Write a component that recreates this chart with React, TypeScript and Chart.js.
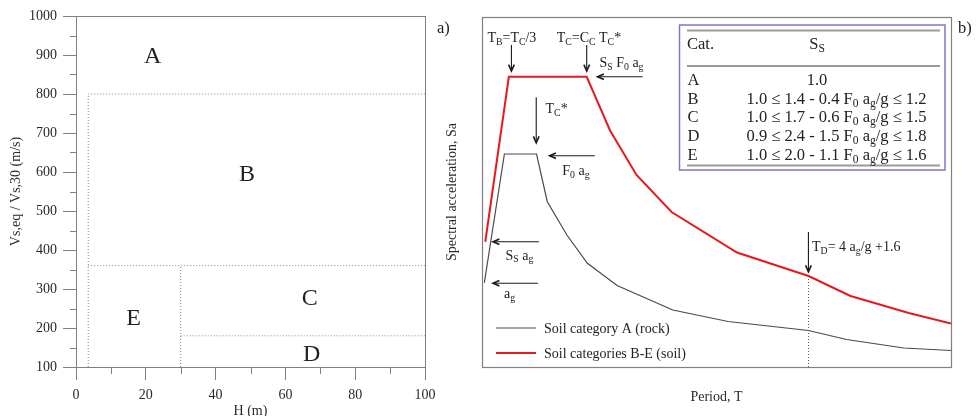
import React, { useEffect, useRef } from 'react';
import { Chart, registerables } from 'chart.js';

Chart.register(...registerables);

const FONT = '"Liberation Serif", "Times New Roman", serif';
Chart.defaults.font.family = FONT;

// ---------- Panel a) : site classification ----------
const hMin = 0;
const hMax = 100;
const hStep = 20;
const hMinorTicks = [10, 30, 50, 70, 90];
const vMin = 100;
const vMax = 1000;
const vStep = 100;
const vMinorTicks = [150, 250, 350, 450, 550, 650, 750, 850, 950];

// category boundaries (H in m, Vs in m/s)
const boundAB_H = [3.5, 3.5, 100];
const boundAB_V = [100, 800, 800];
const boundBE_H = [3.5, 100];
const boundBE_V = [360, 360];
const boundEC_H = [30, 30];
const boundEC_V = [100, 360];
const boundCD_H = [30, 100];
const boundCD_V = [180, 180];

const regionNames = ['A', 'B', 'C', 'D', 'E'];
const regionH = [22, 49, 67, 67.5, 16.5];
const regionV = [901, 598, 280, 135, 228];

// ---------- Panel b) : elastic response spectra ----------
const periodRock = [0.02, 0.191, 0.465, 0.557, 0.724, 0.899, 1.152, 1.627, 2.099, 2.785, 3.109, 3.597, 4.0];
const saRock = [0.337, 0.852, 0.852, 0.661, 0.528, 0.415, 0.326, 0.228, 0.182, 0.146, 0.11, 0.076, 0.066];
const periodSoil = [0.028, 0.229, 0.893, 1.092, 1.318, 1.617, 2.175, 2.785, 3.143, 3.64, 4.0];
const saSoil = [0.501, 1.161, 1.161, 0.946, 0.768, 0.62, 0.458, 0.364, 0.284, 0.216, 0.174];
const periodTD = 2.785;
const seriesLabels = ['Soil category A (rock)', 'Soil categories B-E (soil)'];

const annTexts = [
  'T_{B}=T_{C}/3',
  'T_{C}=C_{C} T_{C}*',
  'S_{S} F_{0} a_{g}',
  'T_{C}*',
  'F_{0} a_{g}',
  'S_{S} a_{g}',
  'a_{g}',
  'T_{D}= 4 a_{g}/g +1.6',
];
const annT = [0.046, 0.637, 1.002, 0.542, 0.685, 0.2, 0.188, 2.815];
const annSa = [1.3, 1.3, 1.2, 1.016, 0.768, 0.43, 0.276, 0.464];

const arrowFromT = [0.251, 0.893, 1.37, 0.4625, 0.962, 0.486, 0.477, 2.784];
const arrowFromSa = [1.288, 1.288, 1.161, 1.079, 0.845, 0.501, 0.335, 0.54];
const arrowToT = [0.251, 0.893, 0.985, 0.4625, 0.576, 0.094, 0.094, 2.784];
const arrowToSa = [1.184, 1.184, 1.161, 0.897, 0.845, 0.501, 0.335, 0.381];

const tableHeader = ['Cat.', 'S_{S}'];
const tableCats = ['A', 'B', 'C', 'D', 'E'];
const tableSs = [
  '1.0',
  '1.0 ≤ 1.4 - 0.4 F_{0} a_{g}/g ≤ 1.2',
  '1.0 ≤ 1.7 - 0.6 F_{0} a_{g}/g ≤ 1.5',
  '0.9 ≤ 2.4 - 1.5 F_{0} a_{g}/g ≤ 1.8',
  '1.0 ≤ 2.0 - 1.1 F_{0} a_{g}/g ≤ 1.6',
];

// ---------- helpers ----------
const toPts = (xs: number[], ys: number[]) => xs.map((x, i) => ({ x, y: ys[i] }));

function parseRich(s: string) {
  const segs: { t: string; sub: boolean }[] = [];
  const re = /_\{([^}]*)\}/g;
  let last = 0;
  let m: RegExpExecArray | null;
  while ((m = re.exec(s))) {
    if (m.index > last) segs.push({ t: s.slice(last, m.index), sub: false });
    segs.push({ t: m[1], sub: true });
    last = re.lastIndex;
  }
  if (last < s.length) segs.push({ t: s.slice(last), sub: false });
  return segs;
}

function drawRich(ctx: CanvasRenderingContext2D, s: string, x: number, y: number, size: number, align = 'left') {
  const segs = parseRich(s);
  const sub = size * 0.7;
  let w = 0;
  segs.forEach((g) => {
    ctx.font = `${g.sub ? sub : size}px ${FONT}`;
    w += ctx.measureText(g.t).width;
  });
  let cx = align === 'center' ? x - w / 2 : x;
  ctx.textBaseline = 'alphabetic';
  ctx.textAlign = 'left';
  segs.forEach((g) => {
    ctx.font = `${g.sub ? sub : size}px ${FONT}`;
    ctx.fillText(g.t, cx, g.sub ? y + size * 0.2 : y);
    cx += ctx.measureText(g.t).width;
  });
}

const frameColor = '#808080';
const textColor = '#222';

const leftPlugin = {
  id: 'leftDecor',
  afterDraw(chart: any) {
    const { ctx, chartArea: ca, scales } = chart;
    const xs = scales.x;
    const ys = scales.y;
    ctx.save();
    ctx.strokeStyle = frameColor;
    ctx.lineWidth = 1;
    ctx.strokeRect(Math.round(ca.left) + 0.5, Math.round(ca.top) + 0.5, Math.round(ca.right - ca.left), Math.round(ca.bottom - ca.top));
    // minor ticks
    ctx.beginPath();
    hMinorTicks.forEach((h) => {
      const px = Math.round(xs.getPixelForValue(h)) + 0.5;
      ctx.moveTo(px, ca.bottom);
      ctx.lineTo(px, ca.bottom + 7);
    });
    vMinorTicks.forEach((v) => {
      const py = Math.round(ys.getPixelForValue(v)) + 0.5;
      ctx.moveTo(ca.left, py);
      ctx.lineTo(ca.left - 6, py);
    });
    ctx.stroke();
    // region labels
    ctx.fillStyle = textColor;
    ctx.font = `24px ${FONT}`;
    ctx.textAlign = 'center';
    ctx.textBaseline = 'alphabetic';
    regionNames.forEach((n, i) => {
      ctx.fillText(n, xs.getPixelForValue(regionH[i]), ys.getPixelForValue(regionV[i]) + 8);
    });
    ctx.font = `16.5px ${FONT}`;
    ctx.textAlign = 'left';
    ctx.fillText('a)', 437, 33);
    ctx.restore();
  },
};

const rightPlugin = {
  id: 'rightDecor',
  afterDraw(chart: any) {
    const { ctx, chartArea: ca, scales } = chart;
    const xs = scales.x;
    const ys = scales.y;
    ctx.save();
    ctx.strokeStyle = frameColor;
    ctx.lineWidth = 1.2;
    ctx.strokeRect(Math.round(ca.left) + 0.5, Math.round(ca.top) + 0.5, Math.round(ca.right - ca.left), Math.round(ca.bottom - ca.top));

    // arrows
    ctx.strokeStyle = '#1a1a1a';
    ctx.lineWidth = 1.1;
    arrowFromT.forEach((t, i) => {
      const x1 = xs.getPixelForValue(t);
      const y1 = ys.getPixelForValue(arrowFromSa[i]);
      const x2 = xs.getPixelForValue(arrowToT[i]);
      const y2 = ys.getPixelForValue(arrowToSa[i]);
      const a = Math.atan2(y2 - y1, x2 - x1);
      ctx.beginPath();
      ctx.moveTo(x1, y1);
      ctx.lineTo(x2, y2);
      ctx.stroke();
      ctx.lineWidth = 1.6;
      ctx.beginPath();
      const L = 7;
      const s = 0.42;
      ctx.moveTo(x2 - L * Math.cos(a - s), y2 - L * Math.sin(a - s));
      ctx.lineTo(x2, y2);
      ctx.lineTo(x2 - L * Math.cos(a + s), y2 - L * Math.sin(a + s));
      ctx.stroke();
      ctx.lineWidth = 1.1;
    });

    // annotations
    ctx.fillStyle = textColor;
    annTexts.forEach((s, i) => {
      drawRich(ctx, s, xs.getPixelForValue(annT[i]), ys.getPixelForValue(annSa[i]), 14);
    });

    // table
    ctx.strokeStyle = '#7c78c6';
    ctx.lineWidth = 1.5;
    ctx.strokeRect(239.5, 25, 265.5, 145);
    ctx.strokeStyle = '#9a9a9a';
    ctx.lineWidth = 2;
    [30.5, 66, 165.5].forEach((y) => {
      ctx.beginPath();
      ctx.moveTo(247, y);
      ctx.lineTo(500, y);
      ctx.stroke();
    });
    ctx.fillStyle = textColor;
    drawRich(ctx, tableHeader[0], 247, 49, 16.5);
    drawRich(ctx, tableHeader[1], 377, 49, 16.5, 'center');
    const rowY = [85, 103.5, 122, 141, 160];
    tableCats.forEach((c, i) => {
      drawRich(ctx, c, 247.5, rowY[i], 16.5);
      if (i === 0) drawRich(ctx, tableSs[i], 377, rowY[i], 16.5, 'center');
      else drawRich(ctx, tableSs[i], 306.5, rowY[i], 16.5);
    });

    // legend
    const ds = chart.data.datasets;
    const legY = [328, 353];
    [0, 1].forEach((k) => {
      ctx.strokeStyle = ds[k].borderColor;
      ctx.lineWidth = ds[k].borderWidth;
      ctx.beginPath();
      ctx.moveTo(56, legY[k]);
      ctx.lineTo(96, legY[k]);
      ctx.stroke();
      ctx.fillStyle = textColor;
      ctx.font = `14px ${FONT}`;
      ctx.textBaseline = 'middle';
      ctx.textAlign = 'left';
      ctx.fillText(ds[k].label, 104, legY[k] + 1);
    });

    ctx.font = `16.5px ${FONT}`;
    ctx.textBaseline = 'alphabetic';
    ctx.fillText('b)', 518, 33);
    ctx.restore();
  },
};

const dotted = { showLine: true, borderColor: '#8a8a8a', borderWidth: 1, borderDash: [1, 2], pointRadius: 0, fill: false };

function leftConfig(): any {
  return {
    type: 'scatter',
    data: {
      datasets: [
        { ...dotted, data: toPts(boundAB_H, boundAB_V) },
        { ...dotted, data: toPts(boundBE_H, boundBE_V) },
        { ...dotted, data: toPts(boundEC_H, boundEC_V) },
        { ...dotted, data: toPts(boundCD_H, boundCD_V) },
      ],
    },
    options: {
      responsive: false,
      animation: false,
      events: [],
      layout: { padding: { top: 16, right: 45, bottom: 0, left: 0 } },
      plugins: { legend: { display: false }, tooltip: { enabled: false } },
      scales: {
        x: {
          type: 'linear',
          min: hMin,
          max: hMax,
          ticks: { stepSize: hStep, padding: 7, color: '#2a2a2a', font: { size: 14 }, maxRotation: 0, autoSkip: false, callback: (v: any) => String(v) },
          grid: { drawOnChartArea: false, tickLength: 13, color: frameColor },
          border: { display: false },
          title: { display: true, text: 'H (m)', color: '#2a2a2a', font: { size: 14 }, padding: { top: 0, bottom: -3.5 } },
          afterFit: (s: any) => { s.height = 49; },
        },
        y: {
          type: 'linear',
          min: vMin,
          max: vMax,
          ticks: { stepSize: vStep, padding: 6, color: '#2a2a2a', font: { size: 14 }, autoSkip: false, callback: (v: any) => String(v) },
          grid: { drawOnChartArea: false, tickLength: 13, color: frameColor },
          border: { display: false },
          title: { display: true, text: 'Vs,eq / Vs,30 (m/s)', color: '#2a2a2a', font: { size: 14 }, padding: { top: 8.3, bottom: 0 } },
          afterFit: (s: any) => { s.width = 76; },
        },
      },
    },
    plugins: [leftPlugin],
  };
}

function rightConfig(): any {
  return {
    type: 'scatter',
    data: {
      datasets: [
        { label: seriesLabels[0], data: toPts(periodRock, saRock), showLine: true, borderColor: '#4a4a4a', borderWidth: 1.2, pointRadius: 0, tension: 0 },
        { label: seriesLabels[1], data: toPts(periodSoil, saSoil), showLine: true, borderColor: '#e8191c', borderWidth: 2, pointRadius: 0, tension: 0 },
        { ...dotted, borderColor: '#555', data: toPts([periodTD, periodTD], [0, saSoil[7]]) },
      ],
    },
    options: {
      responsive: false,
      animation: false,
      events: [],
      layout: { padding: { top: 17, right: 27, bottom: 0, left: 0 } },
      plugins: { legend: { display: false }, tooltip: { enabled: false } },
      scales: {
        x: {
          type: 'linear',
          min: 0,
          max: 4,
          ticks: { display: false },
          grid: { display: false },
          border: { display: false },
          title: { display: true, text: 'Period, T', color: '#2a2a2a', font: { size: 14 }, padding: { top: 0, bottom: 10.6 } },
          afterFit: (s: any) => { s.height = 49; },
        },
        y: {
          type: 'linear',
          min: 0,
          max: 1.4,
          ticks: { display: false },
          grid: { display: false },
          border: { display: false },
          title: { display: true, text: 'Spectral acceleration, Sa', color: '#2a2a2a', font: { size: 14 }, padding: { top: 3.6, bottom: 0 } },
          afterFit: (s: any) => { s.width = 42; },
        },
      },
    },
    plugins: [rightPlugin],
  };
}

export default function App() {
  const leftRef = useRef<HTMLCanvasElement>(null);
  const rightRef = useRef<HTMLCanvasElement>(null);
  useEffect(() => {
    const c1 = new Chart(leftRef.current as HTMLCanvasElement, leftConfig());
    const c2 = new Chart(rightRef.current as HTMLCanvasElement, rightConfig());
    return () => {
      c1.destroy();
      c2.destroy();
    };
  }, []);
  return (
    <div style={{ position: 'fixed', left: 0, top: 0, width: 978, height: 416, background: '#fff', overflow: 'hidden' }}>
      <canvas ref={leftRef} width={470} height={416} style={{ position: 'absolute', left: 0, top: 0, width: 470, height: 416 }} />
      <canvas ref={rightRef} width={538} height={416} style={{ position: 'absolute', left: 440, top: 0, width: 538, height: 416 }} />
    </div>
  );
}
